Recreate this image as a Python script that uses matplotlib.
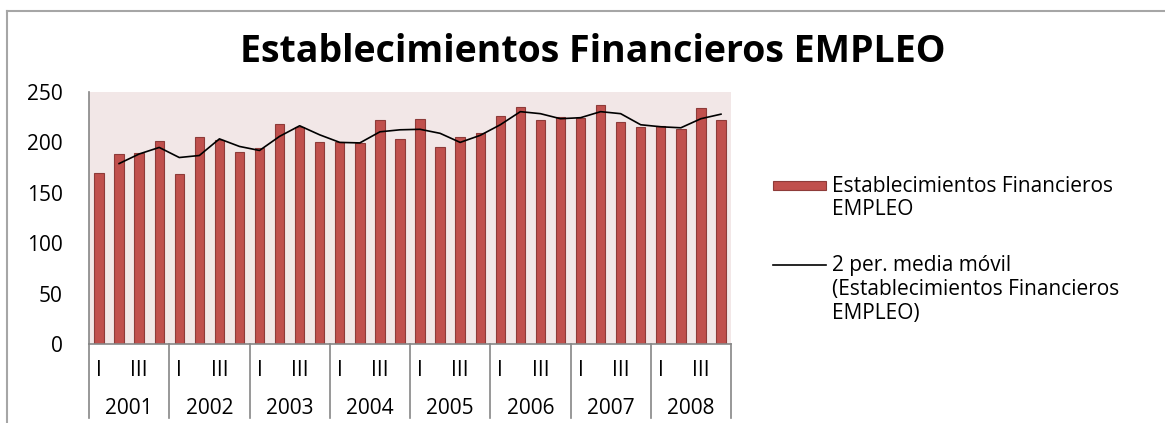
import matplotlib
matplotlib.use("Agg")
import matplotlib.pyplot as plt
import numpy as np
from matplotlib.patches import Rectangle
from matplotlib.lines import Line2D

plt.rcParams['font.family'] = ['Open Sans', 'DejaVu Sans']

years = ['2001', '2002', '2003', '2004', '2005', '2006', '2007', '2008']
quarters = ['I', '', 'III', '']
empleo = [170, 188, 189, 201,
          169, 205, 202, 190,
          194, 218, 215, 200,
          200, 199, 222, 203,
          223, 195, 205, 209,
          226, 235, 222, 225,
          224, 237, 220, 215,
          216, 213, 234, 222]

title = 'Establecimientos Financieros EMPLEO'
bar_label = 'Establecimientos Financieros\nEMPLEO'
ma_label = '2 per. media móvil\n(Establecimientos Financieros\nEMPLEO)'

W, H = 1165, 423
fig = plt.figure(figsize=(W / 100, H / 100), dpi=100)

# outer chart frame (top and left edges visible)
fig.add_artist(Line2D([6.5 / W, 6.5 / W], [0, 1 - 11 / H], color='#A6A6A6', lw=1.5))
fig.add_artist(Line2D([6.5 / W, 1], [1 - 11 / H, 1 - 11 / H], color='#A6A6A6', lw=1.5))

left, right, top, bottom = 89, 731, 92, 344
ax = fig.add_axes([left / W, 1 - bottom / H, (right - left) / W, (bottom - top) / H])
ax.set_facecolor('#F2E7E7')

x = np.arange(len(empleo))
vals = np.array(empleo, dtype=float)
ax.bar(x, vals, width=0.47, color='#C0504D', edgecolor='#8E3B39', linewidth=0.8, zorder=2)

# 2-period moving average
ma = (vals[1:] + vals[:-1]) / 2
ax.plot(x[1:], ma, color='black', lw=1.2, zorder=3)

fs = 15
ax.set_xlim(-0.5, len(empleo) - 0.5)
ax.set_ylim(0, 250)
ax.set_yticks(np.arange(0, 251, 50))
ax.tick_params(axis='y', length=0, pad=19, labelsize=fs)
ax.set_xticks([])
for s in ['top', 'right']:
    ax.spines[s].set_visible(False)
ax.spines['left'].set_color('#868686')
ax.spines['bottom'].set_color('#868686')
ax.spines['left'].set_linewidth(1.2)
ax.spines['bottom'].set_linewidth(1.2)

# multi-level category axis
trans = ax.get_xaxis_transform()
depth = -(418 - bottom) / (bottom - top)
for k in range(len(years) + 1):
    xb = 4 * k - 0.5
    ax.plot([xb, xb], [0, depth], color='#868686', lw=1.2, transform=trans, clip_on=False)
q_y = -(370 - bottom) / (bottom - top)
y_y = -(408 - bottom) / (bottom - top)
for i, yr in enumerate(years):
    for j, q in enumerate(quarters):
        if q:
            ax.text(4 * i + j, q_y, q, transform=trans, ha='center', va='center', fontsize=fs)
    ax.text(4 * i + 1.5, y_y, yr, transform=trans, ha='center', va='center', fontsize=fs)

fig.text(593 / W, 1 - 52 / H, title, ha='center', va='center', fontsize=27, fontweight='bold')

# legend (handle aligned with first line of each label, as in Excel)
fig.add_artist(Rectangle((773 / W, 1 - 190 / H), 53 / W, 9 / H, facecolor='#C0504D',
                         edgecolor='#8E3B39', lw=0.8))
for n, line in enumerate(bar_label.split('\n')):
    fig.text(832 / W, 1 - (186 + 23.5 * n) / H, line, ha='left', va='center', fontsize=fs)
fig.add_artist(Line2D([773 / W, 826 / W], [1 - 265 / H, 1 - 265 / H], color='black', lw=1.2))
for n, line in enumerate(ma_label.split('\n')):
    fig.text(832 / W, 1 - (265 + 24 * n) / H, line, ha='left', va='center', fontsize=fs)

fig.savefig('out.png', dpi=100)
